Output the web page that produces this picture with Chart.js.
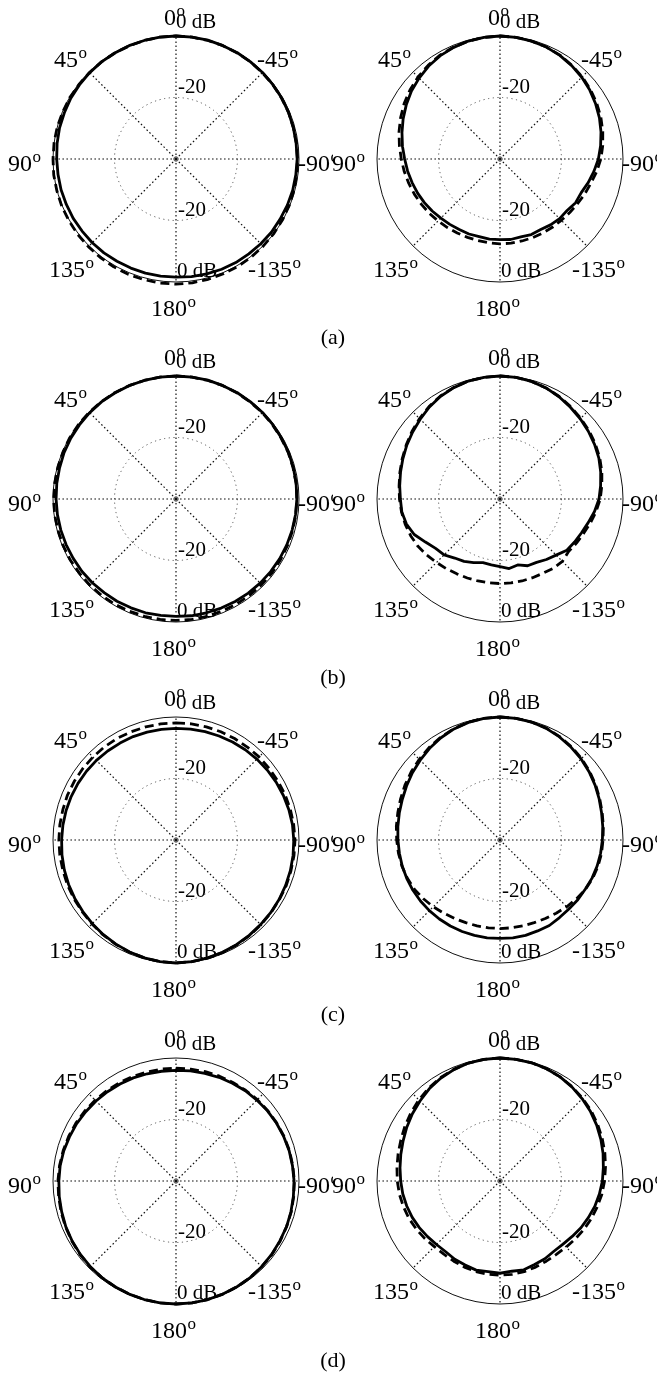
<!DOCTYPE html>
<html><head><meta charset="utf-8">
<script src="https://cdn.jsdelivr.net/npm/chart.js@4.4.0/dist/chart.umd.min.js"></script>
<style>
html,body{margin:0;padding:0;background:#fff;width:657px;height:1373px;overflow:hidden;position:relative}
canvas{position:absolute}
.lab{position:absolute;width:60px;text-align:center;font:22px "Liberation Serif",serif;line-height:22px;color:#000}
</style></head><body>
<script>
// Angles (degrees, counter-clockwise from top), 7.5 degree steps
const anglesDeg = [0,7.5,15,22.5,30,37.5,45,52.5,60,67.5,75,82.5,90,97.5,105,112.5,120,127.5,135,142.5,150,157.5,165,172.5,180,187.5,195,202.5,210,217.5,225,232.5,240,247.5,255,262.5,270,277.5,285,292.5,300,307.5,315,322.5,330,337.5,345,352.5];

// (a) left
const aLs = [0,0,-0.1,-0.1,-0.2,-0.2,-0.3,-0.4,-0.5,-0.7,-0.8,-1.0,-1.2,-1.3,-1.3,-1.4,-1.4,-1.5,-1.5,-1.5,-1.6,-1.6,-1.6,-1.6,-1.6,-1.4,-1.3,-1.2,-1.1,-1.1,-1.0,-0.9,-0.9,-0.8,-0.7,-0.7,-0.6,-0.6,-0.5,-0.4,-0.3,-0.3,-0.2,-0.2,-0.1,-0.1,0,0];
const aLd = [0,0,-0.1,-0.2,-0.2,-0.2,-0.2,-0.2,-0.1,-0.1,0,0,0,0.1,0.1,0.2,0.2,0.3,0.3,0.4,0.5,0.6,0.6,0.7,0.7,0.6,0.5,0.4,0.3,0.2,0.1,0,-0.1,-0.2,-0.3,-0.4,-0.5,-0.5,-0.5,-0.4,-0.4,-0.3,-0.3,-0.2,-0.2,-0.1,-0.1,0];
// (a) right
const aRs = [0,-0.1,-0.3,-0.7,-1.2,-1.9,-2.8,-3.7,-4.8,-5.9,-7.0,-8.0,-9.0,-9.7,-10.4,-11.0,-11.6,-12.2,-12.8,-13.2,-13.5,-13.6,-13.9,-13.7,-13.8,-13.6,-13.8,-13.4,-13.5,-13.0,-12.6,-12.5,-11.6,-11.4,-10.3,-9.2,-8.0,-7.0,-6.0,-5.0,-4.1,-3.2,-2.4,-1.7,-1.1,-0.6,-0.3,-0.1];
const aRd = [0,-0.1,-0.3,-0.6,-1.0,-1.6,-2.3,-3.1,-4.0,-5.0,-6.0,-7.0,-7.9,-8.6,-9.3,-9.9,-10.5,-11.0,-11.5,-11.9,-12.2,-12.4,-12.5,-12.5,-12.4,-12.4,-12.4,-12.3,-12.2,-12.0,-11.8,-11.4,-10.9,-10.2,-9.4,-8.3,-7.2,-6.3,-5.4,-4.5,-3.7,-2.9,-2.2,-1.6,-1.0,-0.6,-0.3,-0.1];
// (b) left
const bLs = [0,0,-0.1,-0.1,-0.2,-0.2,-0.3,-0.4,-0.5,-0.6,-0.8,-0.9,-1.0,-1.1,-1.2,-1.3,-1.4,-1.4,-1.5,-1.6,-1.6,-1.7,-1.7,-1.8,-1.8,-1.7,-1.7,-1.6,-1.5,-1.4,-1.3,-1.2,-1.1,-1.0,-0.9,-0.8,-0.7,-0.6,-0.5,-0.4,-0.4,-0.3,-0.2,-0.2,-0.1,-0.1,0,0];
const bLd = [0,0,-0.1,-0.1,-0.1,-0.1,-0.1,-0.1,-0.1,-0.2,-0.2,-0.2,-0.2,-0.2,-0.3,-0.3,-0.3,-0.4,-0.4,-0.4,-0.4,-0.5,-0.5,-0.5,-0.5,-0.5,-0.5,-0.6,-0.6,-0.6,-0.6,-0.6,-0.7,-0.7,-0.7,-0.7,-0.7,-0.6,-0.6,-0.5,-0.5,-0.4,-0.3,-0.3,-0.2,-0.1,-0.1,0];
// (b) right
const bRs = [0,-0.1,-0.3,-0.8,-1.4,-2.3,-3.3,-4.2,-5.0,-5.8,-6.5,-7.1,-7.6,-7.8,-8.5,-9.8,-12.0,-13.6,-14.3,-15.8,-16.6,-17.6,-18.6,-18.4,-18.0,-17.2,-17.8,-16.5,-16.2,-15.2,-14.2,-12.6,-12.0,-11.3,-10.3,-9.0,-7.8,-7.0,-6.1,-5.2,-4.5,-3.8,-3.1,-2.4,-1.6,-0.9,-0.4,-0.1];
const bRd = [0,-0.1,-0.3,-0.7,-1.3,-2.1,-3.0,-3.9,-4.8,-5.6,-6.3,-6.9,-7.3,-7.7,-8.1,-8.6,-9.2,-10.0,-10.8,-11.4,-11.9,-12.2,-12.4,-12.5,-12.5,-12.5,-12.4,-12.3,-12.1,-11.6,-11.3,-11.9,-11.3,-10.6,-9.6,-8.5,-7.4,-6.6,-5.7,-4.9,-4.2,-3.5,-2.9,-2.2,-1.5,-0.9,-0.4,-0.1];
// (c) left
const cLs = [-3.7,-3.7,-3.7,-3.6,-3.6,-3.5,-3.4,-3.3,-3.2,-3.1,-3.0,-2.9,-2.8,-2.6,-2.4,-2.2,-2.0,-1.8,-1.5,-1.2,-0.9,-0.6,-0.3,-0.1,0,-0.1,-0.3,-0.5,-0.7,-0.9,-1.1,-1.2,-1.3,-1.4,-1.5,-1.6,-1.7,-1.8,-2.0,-2.2,-2.4,-2.6,-2.8,-3.0,-3.2,-3.4,-3.5,-3.6];
const cLd = [-1.9,-1.9,-1.9,-1.9,-1.8,-1.8,-1.8,-1.8,-1.8,-1.8,-1.9,-1.9,-1.9,-1.9,-1.9,-1.8,-1.7,-1.6,-1.4,-1.1,-0.8,-0.5,-0.3,-0.1,0,-0.1,-0.2,-0.4,-0.6,-0.8,-1.0,-1.1,-1.2,-1.2,-1.3,-1.3,-1.3,-1.4,-1.5,-1.6,-1.7,-1.8,-1.8,-1.9,-1.9,-1.9,-1.9,-1.9];
// (c) right
const cRs = [0,-0.1,-0.4,-0.9,-1.6,-2.4,-3.3,-4.1,-4.9,-5.6,-6.1,-6.5,-6.8,-7.0,-7.1,-7.2,-7.3,-7.4,-7.5,-7.6,-7.7,-7.8,-7.9,-7.9,-8.0,-7.9,-7.9,-8.0,-7.9,-8.2,-8.3,-8.1,-8.0,-7.6,-7.3,-7.0,-6.7,-6.3,-5.8,-5.1,-4.3,-3.5,-2.7,-2.0,-1.3,-0.7,-0.3,-0.1];
const cRd = [0,-0.1,-0.3,-0.8,-1.4,-2.1,-2.9,-3.6,-4.3,-5.0,-5.6,-6.0,-6.4,-6.7,-7.0,-7.4,-7.9,-8.6,-9.3,-10.0,-10.5,-10.9,-11.1,-11.2,-11.2,-11.2,-11.1,-10.9,-10.5,-10.0,-9.3,-8.6,-7.9,-7.4,-7.0,-6.7,-6.5,-6.1,-5.6,-4.9,-4.1,-3.3,-2.5,-1.8,-1.2,-0.6,-0.3,-0.1];
// (d) left
const dLs = [-4.0,-4.0,-3.9,-3.7,-3.6,-3.4,-3.2,-3.0,-2.7,-2.5,-2.2,-2.0,-1.9,-1.7,-1.5,-1.2,-1.0,-0.8,-0.6,-0.4,-0.3,-0.2,-0.1,0,0,0,-0.1,-0.2,-0.3,-0.4,-0.6,-0.8,-1.0,-1.1,-1.3,-1.5,-1.6,-1.8,-1.9,-2.1,-2.3,-2.5,-2.8,-3.0,-3.3,-3.5,-3.8,-3.9];
const dLd = [-3.3,-3.3,-3.3,-3.2,-3.1,-3.0,-2.8,-2.6,-2.4,-2.2,-2.0,-1.8,-1.6,-1.5,-1.3,-1.1,-0.9,-0.7,-0.5,-0.4,-0.3,-0.2,-0.1,0,0,0,-0.1,-0.2,-0.3,-0.4,-0.6,-0.7,-0.9,-1.1,-1.2,-1.4,-1.5,-1.7,-1.8,-2.0,-2.2,-2.4,-2.6,-2.8,-3.0,-3.1,-3.2,-3.3];
// (d) right
const dRs = [0,-0.1,-0.3,-0.8,-1.4,-2.2,-3.2,-4.1,-5.0,-5.9,-6.6,-7.2,-7.7,-8.1,-8.6,-9.1,-9.7,-10.3,-10.8,-11.0,-10.6,-10.4,-10.0,-10.3,-10.0,-10.4,-10.1,-10.6,-10.8,-11.2,-11.0,-10.4,-9.6,-8.9,-8.1,-7.4,-6.7,-6.1,-5.3,-4.5,-3.7,-2.9,-2.2,-1.5,-0.9,-0.5,-0.2,-0.1];
const dRd = [0,-0.1,-0.3,-0.7,-1.2,-1.9,-2.7,-3.5,-4.3,-5.1,-5.7,-6.2,-6.6,-7.0,-7.5,-8.0,-8.6,-9.2,-9.8,-10.0,-9.9,-9.7,-9.5,-9.4,-9.4,-9.4,-9.5,-9.7,-9.9,-9.9,-9.6,-9.1,-8.5,-7.9,-7.3,-6.6,-6.0,-5.4,-4.7,-4.0,-3.3,-2.6,-2.0,-1.4,-0.9,-0.5,-0.2,-0.1];

// Tick labels
const angleTickLabels = ['0','45','90','135','180','-135','-90','-45'];
const radialTickLabels = ['0 dB','-20','-20','0 dB'];
const rowLabels = ['(a)','(b)','(c)','(d)'];
const rMin = -40, rMax = 0, rStep = 20;

// ---- layout (positions / styles) ----
const R0 = 123;
const colCenters = [176, 500];
const rowCenters = [159, 499, 840, 1181];
const rowLabelBaselines = [344, 684, 1021, 1367];
const canvasCols = [{left:0,width:333},{left:333,width:324}];
const canvasH = 335, canvasTopOff = 165;
// offsets relative to plot center, for R = 123 px: [leftX, baselineY]
const angleLabelPos = [[-12,-134],[-122,-92],[-168,12],[-127,118],[-25,157],[72,118],[122,12],[81,-92]];
const radialLabelPos = [[0,-131],[2,-66],[2,57],[1,118]];
const SERIF = '"Liberation Serif","Times New Roman",serif';

const panelSeries = [
  [aLs,aLd],[aRs,aRd],
  [bLs,bLd],[bRs,bRd],
  [cLs,cLd],[cRs,cRd],
  [dLs,dLd],[dRs,dRd]
];

// radar draws clockwise from top; our angles run counter-clockwise
const n = anglesDeg.length;
function toRadarOrder(arr){ const out=[]; for(let i=0;i<n;i++){ out.push(arr[(n-i)%n]); } return out; }
const radarLabels = toRadarOrder(anglesDeg).map(a=>String(a));
const spokeEvery = 45/(anglesDeg[1]-anglesDeg[0]);

const polarDecor = {
  id:'polarDecor',
  beforeDatasetsDraw(chart){
    const s = chart.scales.r, ctx = chart.ctx;
    const xc = s.xCenter, yc = s.yCenter, u = s.drawingArea / R0;
    ctx.save();
    ctx.strokeStyle = '#444'; ctx.lineWidth = 1;
    ctx.beginPath(); ctx.arc(xc, yc, 2.2, 0, Math.PI*2); ctx.stroke();
    ctx.fillStyle = '#000'; ctx.textAlign = 'left'; ctx.textBaseline = 'alphabetic';
    angleTickLabels.forEach((t,i)=>{
      const x = xc + angleLabelPos[i][0]*u, y = yc + angleLabelPos[i][1]*u;
      ctx.font = '24px ' + SERIF;
      ctx.fillText(t, x, y);
      const w = ctx.measureText(t).width;
      ctx.font = '17px ' + SERIF;
      ctx.fillText('o', x + w + 0.5, y - 9);
    });
    ctx.font = '21px ' + SERIF;
    radialTickLabels.forEach((t,i)=>{
      ctx.fillText(t, xc + radialLabelPos[i][0]*u, yc + radialLabelPos[i][1]*u);
    });
    ctx.restore();
  }
};

panelSeries.forEach((ser, p)=>{
  const col = p % 2, row = Math.floor(p/2);
  const cv = document.createElement('canvas');
  const cc = canvasCols[col];
  cv.width = cc.width; cv.height = canvasH;
  cv.style.left = cc.left + 'px';
  const top = rowCenters[row] - canvasTopOff;
  cv.style.top = top + 'px';
  cv.style.width = cc.width + 'px'; cv.style.height = canvasH + 'px';
  document.body.appendChild(cv);
  const lx = colCenters[col] - cc.left, ly = canvasTopOff;
  const pad = {left: lx - R0, right: cc.width - lx - R0, top: ly - R0, bottom: canvasH - ly - R0};
  new Chart(cv, {
    type:'radar',
    data:{ labels: radarLabels, datasets:[
      {label:'solid', data: toRadarOrder(ser[0]), borderColor:'#000', borderWidth:2.8, pointRadius:0, fill:false, tension:0, clip:false},
      {label:'dashed', data: toRadarOrder(ser[1]), borderColor:'#000', borderWidth:2.8, borderDash:[9,5], pointRadius:0, fill:false, tension:0, clip:false}
    ]},
    options:{
      responsive:false, animation:false, devicePixelRatio:1,
      layout:{padding:pad},
      plugins:{legend:{display:false}, tooltip:{enabled:false}},
      elements:{line:{borderJoinStyle:'round'}},
      scales:{ r:{
        min:rMin, max:rMax, beginAtZero:false,
        ticks:{display:false, stepSize:rStep},
        pointLabels:{display:false},
        angleLines:{display:true,
          color:(c)=> (c.index % spokeEvery === 0) ? '#111' : 'rgba(0,0,0,0)',
          lineWidth:(c)=> (c.index % spokeEvery === 0) ? 1.2 : 0,
          borderDash:[1.6,2.4]},
        grid:{circular:true,
          color:(c)=> c.index===0 ? 'rgba(0,0,0,0)' : (c.index===1 ? '#555' : '#111'),
          lineWidth:(c)=> c.index===0 ? 0 : 1},
        border:{dash:(c)=> c.index===1 ? [1.2,3.5] : []}
      }}
    },
    plugins:[polarDecor]
  });
});

rowLabels.forEach((t,i)=>{
  const d = document.createElement('div');
  d.className = 'lab'; d.textContent = t;
  d.style.left = (333 - 30) + 'px';
  d.style.top = (rowLabelBaselines[i] - 18) + 'px';
  document.body.appendChild(d);
});
</script>
</body></html>
